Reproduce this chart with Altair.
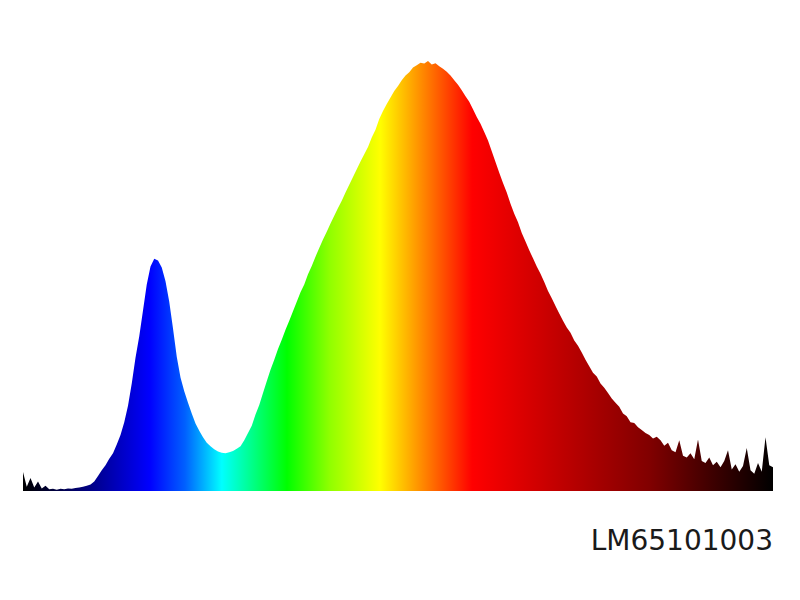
import altair as alt
import pandas as pd

wavelength = list(range(380, 782, 2))
intensity = [
    0.044, 0.010, 0.030, 0.008, 0.022, 0.006, 0.012, 0.004, 0.005, 0.003,
    0.005, 0.004, 0.006, 0.005, 0.007, 0.008, 0.010, 0.012, 0.015, 0.022,
    0.035, 0.048, 0.060, 0.075, 0.088, 0.108, 0.130, 0.160, 0.198, 0.250,
    0.310, 0.360, 0.420, 0.480, 0.522, 0.540, 0.536, 0.520, 0.488, 0.440,
    0.378, 0.312, 0.264, 0.232, 0.205, 0.180, 0.157, 0.140, 0.125, 0.112,
    0.104, 0.097, 0.092, 0.089, 0.088, 0.090, 0.093, 0.098, 0.104, 0.118,
    0.135, 0.152, 0.178, 0.200, 0.228, 0.255, 0.282, 0.305, 0.330, 0.352,
    0.375, 0.396, 0.418, 0.440, 0.462, 0.480, 0.504, 0.523, 0.545, 0.565,
    0.585, 0.603, 0.622, 0.640, 0.658, 0.675, 0.694, 0.712, 0.730, 0.748,
    0.766, 0.783, 0.800, 0.822, 0.840, 0.865, 0.884, 0.900, 0.915, 0.930,
    0.942, 0.955, 0.966, 0.974, 0.985, 0.990, 0.996, 0.994, 1.000, 0.992,
    0.995, 0.988, 0.982, 0.975, 0.966, 0.955, 0.945, 0.932, 0.918, 0.905,
    0.888, 0.870, 0.854, 0.835, 0.815, 0.790, 0.765, 0.740, 0.716, 0.694,
    0.668, 0.645, 0.625, 0.600, 0.580, 0.560, 0.541, 0.522, 0.505, 0.486,
    0.465, 0.448, 0.430, 0.413, 0.396, 0.380, 0.368, 0.350, 0.338, 0.322,
    0.305, 0.290, 0.275, 0.266, 0.250, 0.240, 0.228, 0.215, 0.205, 0.196,
    0.180, 0.174, 0.160, 0.158, 0.148, 0.142, 0.135, 0.130, 0.122, 0.126,
    0.118, 0.105, 0.112, 0.095, 0.090, 0.118, 0.082, 0.078, 0.088, 0.074,
    0.120, 0.070, 0.065, 0.078, 0.060, 0.068, 0.055, 0.070, 0.095, 0.050,
    0.062, 0.045, 0.058, 0.100, 0.048, 0.040, 0.065, 0.045, 0.125, 0.060,
    0.055,
]

stop_offsets = [0.0, 0.029, 0.103, 0.169, 0.216, 0.265, 0.303, 0.352, 0.409,
                0.476, 0.529, 0.599, 0.716, 0.836, 0.916, 1.0]
stop_colors = ["#000000", "#00002a", "#00009a", "#0000ff", "#0060ff", "#00ffff",
               "#00ff90", "#00ff00", "#90ff00", "#ffff00", "#ff9000", "#ff0000",
               "#c00000", "#800000", "#400000", "#000000"]

label = ["LM65101003"]

df = pd.DataFrame({"wavelength": wavelength, "intensity": intensity})
lab = pd.DataFrame({"label": label})

gradient = alt.Gradient(
    gradient="linear",
    stops=[alt.GradientStop(color=c, offset=o) for c, o in zip(stop_colors, stop_offsets)],
    x1=0, x2=1, y1=0, y2=0,
)

area = alt.Chart(df).mark_area(color=gradient, interpolate="linear").encode(
    x=alt.X("wavelength:Q", scale=alt.Scale(domain=[380, 780], nice=False, zero=False), axis=None),
    y=alt.Y("intensity:Q", scale=alt.Scale(domain=[0, 1], nice=False), axis=None),
)

text = alt.Chart(lab).mark_text(
    align="right", baseline="alphabetic", font="DejaVu Sans", fontSize=28, color="#1a1a1a"
).encode(
    text="label:N",
    x=alt.value(750),
    y=alt.value(489),
)

chart = alt.layer(area, text).properties(
    width=750,
    height=430,
    autosize=alt.AutoSizeParams(type="none"),
    padding={"left": 15, "top": 53, "right": 19, "bottom": 101},
    background="white",
).configure_view(stroke=None)

chart.save("out.html", embed_options={"renderer": "svg", "actions": False})
